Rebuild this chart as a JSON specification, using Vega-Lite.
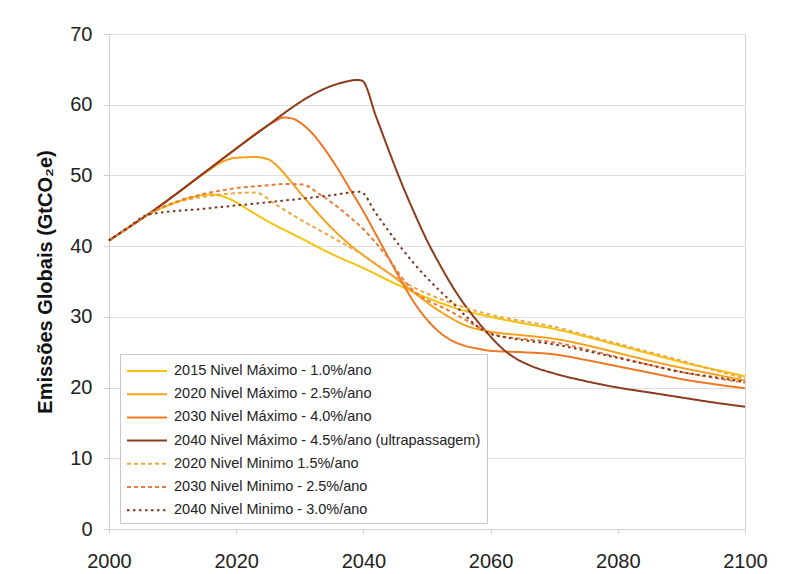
{
  "$schema": "https://vega.github.io/schema/vega-lite/v6.json",
  "width": 636,
  "height": 495,
  "autosize": {"type": "none"},
  "padding": {"left": 109, "top": 34, "right": 55, "bottom": 45},
  "background": "white",
  "config": {
    "view": {"stroke": "#d4d4d4", "strokeWidth": 1},
    "font": "Liberation Sans"
  },
  "datasets": {
    "emissoes": [
      {"serie": "2015 Nivel Máximo - 1.0%/ano", "ano": 2000, "valor": 40.8},
      {"serie": "2015 Nivel Máximo - 1.0%/ano", "ano": 2003, "valor": 42.6},
      {"serie": "2015 Nivel Máximo - 1.0%/ano", "ano": 2006, "valor": 44.4},
      {"serie": "2015 Nivel Máximo - 1.0%/ano", "ano": 2010, "valor": 46.0},
      {"serie": "2015 Nivel Máximo - 1.0%/ano", "ano": 2013, "valor": 46.9},
      {"serie": "2015 Nivel Máximo - 1.0%/ano", "ano": 2016, "valor": 47.3},
      {"serie": "2015 Nivel Máximo - 1.0%/ano", "ano": 2018, "valor": 47.0},
      {"serie": "2015 Nivel Máximo - 1.0%/ano", "ano": 2020, "valor": 46.2},
      {"serie": "2015 Nivel Máximo - 1.0%/ano", "ano": 2022, "valor": 45.1},
      {"serie": "2015 Nivel Máximo - 1.0%/ano", "ano": 2025, "valor": 43.5},
      {"serie": "2015 Nivel Máximo - 1.0%/ano", "ano": 2030, "valor": 41.2},
      {"serie": "2015 Nivel Máximo - 1.0%/ano", "ano": 2035, "valor": 38.9},
      {"serie": "2015 Nivel Máximo - 1.0%/ano", "ano": 2040, "valor": 36.9},
      {"serie": "2015 Nivel Máximo - 1.0%/ano", "ano": 2045, "valor": 34.7},
      {"serie": "2015 Nivel Máximo - 1.0%/ano", "ano": 2050, "valor": 32.7},
      {"serie": "2015 Nivel Máximo - 1.0%/ano", "ano": 2055, "valor": 31.1},
      {"serie": "2015 Nivel Máximo - 1.0%/ano", "ano": 2060, "valor": 30.0},
      {"serie": "2015 Nivel Máximo - 1.0%/ano", "ano": 2065, "valor": 29.1},
      {"serie": "2015 Nivel Máximo - 1.0%/ano", "ano": 2070, "valor": 28.3},
      {"serie": "2015 Nivel Máximo - 1.0%/ano", "ano": 2075, "valor": 27.2},
      {"serie": "2015 Nivel Máximo - 1.0%/ano", "ano": 2080, "valor": 26.0},
      {"serie": "2015 Nivel Máximo - 1.0%/ano", "ano": 2085, "valor": 24.8},
      {"serie": "2015 Nivel Máximo - 1.0%/ano", "ano": 2090, "valor": 23.6},
      {"serie": "2015 Nivel Máximo - 1.0%/ano", "ano": 2095, "valor": 22.6},
      {"serie": "2015 Nivel Máximo - 1.0%/ano", "ano": 2100, "valor": 21.6},

      {"serie": "2020 Nivel Máximo - 2.5%/ano", "ano": 2000, "valor": 40.8},
      {"serie": "2020 Nivel Máximo - 2.5%/ano", "ano": 2003, "valor": 42.6},
      {"serie": "2020 Nivel Máximo - 2.5%/ano", "ano": 2006, "valor": 44.4},
      {"serie": "2020 Nivel Máximo - 2.5%/ano", "ano": 2010, "valor": 47.0},
      {"serie": "2020 Nivel Máximo - 2.5%/ano", "ano": 2015, "valor": 50.3},
      {"serie": "2020 Nivel Máximo - 2.5%/ano", "ano": 2018, "valor": 52.0},
      {"serie": "2020 Nivel Máximo - 2.5%/ano", "ano": 2020, "valor": 52.5},
      {"serie": "2020 Nivel Máximo - 2.5%/ano", "ano": 2023, "valor": 52.6},
      {"serie": "2020 Nivel Máximo - 2.5%/ano", "ano": 2025, "valor": 52.3},
      {"serie": "2020 Nivel Máximo - 2.5%/ano", "ano": 2026, "valor": 51.7},
      {"serie": "2020 Nivel Máximo - 2.5%/ano", "ano": 2028, "valor": 49.8},
      {"serie": "2020 Nivel Máximo - 2.5%/ano", "ano": 2030, "valor": 47.6},
      {"serie": "2020 Nivel Máximo - 2.5%/ano", "ano": 2032, "valor": 45.5},
      {"serie": "2020 Nivel Máximo - 2.5%/ano", "ano": 2034, "valor": 43.5},
      {"serie": "2020 Nivel Máximo - 2.5%/ano", "ano": 2036, "valor": 41.7},
      {"serie": "2020 Nivel Máximo - 2.5%/ano", "ano": 2038, "valor": 40.1},
      {"serie": "2020 Nivel Máximo - 2.5%/ano", "ano": 2040, "valor": 38.7},
      {"serie": "2020 Nivel Máximo - 2.5%/ano", "ano": 2042, "valor": 37.4},
      {"serie": "2020 Nivel Máximo - 2.5%/ano", "ano": 2044, "valor": 36.2},
      {"serie": "2020 Nivel Máximo - 2.5%/ano", "ano": 2048, "valor": 33.4},
      {"serie": "2020 Nivel Máximo - 2.5%/ano", "ano": 2052, "valor": 30.8},
      {"serie": "2020 Nivel Máximo - 2.5%/ano", "ano": 2056, "valor": 28.8},
      {"serie": "2020 Nivel Máximo - 2.5%/ano", "ano": 2060, "valor": 27.9},
      {"serie": "2020 Nivel Máximo - 2.5%/ano", "ano": 2065, "valor": 27.4},
      {"serie": "2020 Nivel Máximo - 2.5%/ano", "ano": 2070, "valor": 26.9},
      {"serie": "2020 Nivel Máximo - 2.5%/ano", "ano": 2075, "valor": 26.0},
      {"serie": "2020 Nivel Máximo - 2.5%/ano", "ano": 2080, "valor": 24.9},
      {"serie": "2020 Nivel Máximo - 2.5%/ano", "ano": 2085, "valor": 23.8},
      {"serie": "2020 Nivel Máximo - 2.5%/ano", "ano": 2090, "valor": 22.8},
      {"serie": "2020 Nivel Máximo - 2.5%/ano", "ano": 2095, "valor": 21.9},
      {"serie": "2020 Nivel Máximo - 2.5%/ano", "ano": 2100, "valor": 21.0},

      {"serie": "2030 Nivel Máximo - 4.0%/ano", "ano": 2000, "valor": 40.8},
      {"serie": "2030 Nivel Máximo - 4.0%/ano", "ano": 2003, "valor": 42.6},
      {"serie": "2030 Nivel Máximo - 4.0%/ano", "ano": 2006, "valor": 44.4},
      {"serie": "2030 Nivel Máximo - 4.0%/ano", "ano": 2010, "valor": 47.0},
      {"serie": "2030 Nivel Máximo - 4.0%/ano", "ano": 2015, "valor": 50.4},
      {"serie": "2030 Nivel Máximo - 4.0%/ano", "ano": 2020, "valor": 53.8},
      {"serie": "2030 Nivel Máximo - 4.0%/ano", "ano": 2024, "valor": 56.5},
      {"serie": "2030 Nivel Máximo - 4.0%/ano", "ano": 2026, "valor": 57.6},
      {"serie": "2030 Nivel Máximo - 4.0%/ano", "ano": 2027.5, "valor": 58.2},
      {"serie": "2030 Nivel Máximo - 4.0%/ano", "ano": 2029, "valor": 58.0},
      {"serie": "2030 Nivel Máximo - 4.0%/ano", "ano": 2030, "valor": 57.5},
      {"serie": "2030 Nivel Máximo - 4.0%/ano", "ano": 2032, "valor": 55.9},
      {"serie": "2030 Nivel Máximo - 4.0%/ano", "ano": 2034, "valor": 53.6},
      {"serie": "2030 Nivel Máximo - 4.0%/ano", "ano": 2036, "valor": 50.9},
      {"serie": "2030 Nivel Máximo - 4.0%/ano", "ano": 2038, "valor": 47.9},
      {"serie": "2030 Nivel Máximo - 4.0%/ano", "ano": 2040, "valor": 44.9},
      {"serie": "2030 Nivel Máximo - 4.0%/ano", "ano": 2042, "valor": 41.6},
      {"serie": "2030 Nivel Máximo - 4.0%/ano", "ano": 2044, "valor": 38.3},
      {"serie": "2030 Nivel Máximo - 4.0%/ano", "ano": 2046, "valor": 35.0},
      {"serie": "2030 Nivel Máximo - 4.0%/ano", "ano": 2048, "valor": 32.0},
      {"serie": "2030 Nivel Máximo - 4.0%/ano", "ano": 2050, "valor": 29.6},
      {"serie": "2030 Nivel Máximo - 4.0%/ano", "ano": 2052, "valor": 27.8},
      {"serie": "2030 Nivel Máximo - 4.0%/ano", "ano": 2054, "valor": 26.6},
      {"serie": "2030 Nivel Máximo - 4.0%/ano", "ano": 2056, "valor": 25.9},
      {"serie": "2030 Nivel Máximo - 4.0%/ano", "ano": 2058, "valor": 25.5},
      {"serie": "2030 Nivel Máximo - 4.0%/ano", "ano": 2060, "valor": 25.2},
      {"serie": "2030 Nivel Máximo - 4.0%/ano", "ano": 2065, "valor": 25.0},
      {"serie": "2030 Nivel Máximo - 4.0%/ano", "ano": 2070, "valor": 24.7},
      {"serie": "2030 Nivel Máximo - 4.0%/ano", "ano": 2075, "valor": 23.9},
      {"serie": "2030 Nivel Máximo - 4.0%/ano", "ano": 2080, "valor": 23.0},
      {"serie": "2030 Nivel Máximo - 4.0%/ano", "ano": 2085, "valor": 22.1},
      {"serie": "2030 Nivel Máximo - 4.0%/ano", "ano": 2090, "valor": 21.2},
      {"serie": "2030 Nivel Máximo - 4.0%/ano", "ano": 2095, "valor": 20.5},
      {"serie": "2030 Nivel Máximo - 4.0%/ano", "ano": 2100, "valor": 19.9},

      {"serie": "2040 Nivel Máximo - 4.5%/ano (ultrapassagem)", "ano": 2000, "valor": 40.8},
      {"serie": "2040 Nivel Máximo - 4.5%/ano (ultrapassagem)", "ano": 2003, "valor": 42.6},
      {"serie": "2040 Nivel Máximo - 4.5%/ano (ultrapassagem)", "ano": 2006, "valor": 44.4},
      {"serie": "2040 Nivel Máximo - 4.5%/ano (ultrapassagem)", "ano": 2010, "valor": 47.0},
      {"serie": "2040 Nivel Máximo - 4.5%/ano (ultrapassagem)", "ano": 2015, "valor": 50.4},
      {"serie": "2040 Nivel Máximo - 4.5%/ano (ultrapassagem)", "ano": 2020, "valor": 53.8},
      {"serie": "2040 Nivel Máximo - 4.5%/ano (ultrapassagem)", "ano": 2025, "valor": 57.1},
      {"serie": "2040 Nivel Máximo - 4.5%/ano (ultrapassagem)", "ano": 2028, "valor": 59.1},
      {"serie": "2040 Nivel Máximo - 4.5%/ano (ultrapassagem)", "ano": 2031, "valor": 60.9},
      {"serie": "2040 Nivel Máximo - 4.5%/ano (ultrapassagem)", "ano": 2034, "valor": 62.3},
      {"serie": "2040 Nivel Máximo - 4.5%/ano (ultrapassagem)", "ano": 2037, "valor": 63.2},
      {"serie": "2040 Nivel Máximo - 4.5%/ano (ultrapassagem)", "ano": 2039, "valor": 63.5},
      {"serie": "2040 Nivel Máximo - 4.5%/ano (ultrapassagem)", "ano": 2039.8, "valor": 63.4},
      {"serie": "2040 Nivel Máximo - 4.5%/ano (ultrapassagem)", "ano": 2042, "valor": 58.3},
      {"serie": "2040 Nivel Máximo - 4.5%/ano (ultrapassagem)", "ano": 2044, "valor": 53.5},
      {"serie": "2040 Nivel Máximo - 4.5%/ano (ultrapassagem)", "ano": 2046, "valor": 48.9},
      {"serie": "2040 Nivel Máximo - 4.5%/ano (ultrapassagem)", "ano": 2048, "valor": 44.7},
      {"serie": "2040 Nivel Máximo - 4.5%/ano (ultrapassagem)", "ano": 2050, "valor": 40.8},
      {"serie": "2040 Nivel Máximo - 4.5%/ano (ultrapassagem)", "ano": 2052, "valor": 37.4},
      {"serie": "2040 Nivel Máximo - 4.5%/ano (ultrapassagem)", "ano": 2054, "valor": 34.3},
      {"serie": "2040 Nivel Máximo - 4.5%/ano (ultrapassagem)", "ano": 2056, "valor": 31.6},
      {"serie": "2040 Nivel Máximo - 4.5%/ano (ultrapassagem)", "ano": 2058, "valor": 29.3},
      {"serie": "2040 Nivel Máximo - 4.5%/ano (ultrapassagem)", "ano": 2060, "valor": 27.2},
      {"serie": "2040 Nivel Máximo - 4.5%/ano (ultrapassagem)", "ano": 2062, "valor": 25.4},
      {"serie": "2040 Nivel Máximo - 4.5%/ano (ultrapassagem)", "ano": 2064, "valor": 24.1},
      {"serie": "2040 Nivel Máximo - 4.5%/ano (ultrapassagem)", "ano": 2066, "valor": 23.2},
      {"serie": "2040 Nivel Máximo - 4.5%/ano (ultrapassagem)", "ano": 2070, "valor": 22.0},
      {"serie": "2040 Nivel Máximo - 4.5%/ano (ultrapassagem)", "ano": 2075, "valor": 20.9},
      {"serie": "2040 Nivel Máximo - 4.5%/ano (ultrapassagem)", "ano": 2080, "valor": 20.0},
      {"serie": "2040 Nivel Máximo - 4.5%/ano (ultrapassagem)", "ano": 2085, "valor": 19.3},
      {"serie": "2040 Nivel Máximo - 4.5%/ano (ultrapassagem)", "ano": 2090, "valor": 18.6},
      {"serie": "2040 Nivel Máximo - 4.5%/ano (ultrapassagem)", "ano": 2095, "valor": 17.9},
      {"serie": "2040 Nivel Máximo - 4.5%/ano (ultrapassagem)", "ano": 2100, "valor": 17.3},

      {"serie": "2020 Nivel Minimo 1.5%/ano", "ano": 2000, "valor": 40.8},
      {"serie": "2020 Nivel Minimo 1.5%/ano", "ano": 2003, "valor": 42.6},
      {"serie": "2020 Nivel Minimo 1.5%/ano", "ano": 2006, "valor": 44.4},
      {"serie": "2020 Nivel Minimo 1.5%/ano", "ano": 2010, "valor": 46.0},
      {"serie": "2020 Nivel Minimo 1.5%/ano", "ano": 2015, "valor": 47.0},
      {"serie": "2020 Nivel Minimo 1.5%/ano", "ano": 2020, "valor": 47.5},
      {"serie": "2020 Nivel Minimo 1.5%/ano", "ano": 2023, "valor": 47.6},
      {"serie": "2020 Nivel Minimo 1.5%/ano", "ano": 2026, "valor": 46.0},
      {"serie": "2020 Nivel Minimo 1.5%/ano", "ano": 2030, "valor": 43.8},
      {"serie": "2020 Nivel Minimo 1.5%/ano", "ano": 2035, "valor": 41.3},
      {"serie": "2020 Nivel Minimo 1.5%/ano", "ano": 2040, "valor": 38.7},
      {"serie": "2020 Nivel Minimo 1.5%/ano", "ano": 2045, "valor": 35.6},
      {"serie": "2020 Nivel Minimo 1.5%/ano", "ano": 2050, "valor": 33.3},
      {"serie": "2020 Nivel Minimo 1.5%/ano", "ano": 2055, "valor": 31.6},
      {"serie": "2020 Nivel Minimo 1.5%/ano", "ano": 2060, "valor": 30.3},
      {"serie": "2020 Nivel Minimo 1.5%/ano", "ano": 2065, "valor": 29.4},
      {"serie": "2020 Nivel Minimo 1.5%/ano", "ano": 2070, "valor": 28.6},
      {"serie": "2020 Nivel Minimo 1.5%/ano", "ano": 2075, "valor": 27.4},
      {"serie": "2020 Nivel Minimo 1.5%/ano", "ano": 2080, "valor": 26.2},
      {"serie": "2020 Nivel Minimo 1.5%/ano", "ano": 2085, "valor": 25.0},
      {"serie": "2020 Nivel Minimo 1.5%/ano", "ano": 2090, "valor": 23.8},
      {"serie": "2020 Nivel Minimo 1.5%/ano", "ano": 2095, "valor": 22.5},
      {"serie": "2020 Nivel Minimo 1.5%/ano", "ano": 2100, "valor": 21.3},

      {"serie": "2030 Nivel Minimo  - 2.5%/ano", "ano": 2000, "valor": 40.8},
      {"serie": "2030 Nivel Minimo  - 2.5%/ano", "ano": 2003, "valor": 42.6},
      {"serie": "2030 Nivel Minimo  - 2.5%/ano", "ano": 2006, "valor": 44.4},
      {"serie": "2030 Nivel Minimo  - 2.5%/ano", "ano": 2010, "valor": 46.1},
      {"serie": "2030 Nivel Minimo  - 2.5%/ano", "ano": 2015, "valor": 47.4},
      {"serie": "2030 Nivel Minimo  - 2.5%/ano", "ano": 2020, "valor": 48.2},
      {"serie": "2030 Nivel Minimo  - 2.5%/ano", "ano": 2025, "valor": 48.6},
      {"serie": "2030 Nivel Minimo  - 2.5%/ano", "ano": 2028, "valor": 48.8},
      {"serie": "2030 Nivel Minimo  - 2.5%/ano", "ano": 2030.5, "valor": 48.7},
      {"serie": "2030 Nivel Minimo  - 2.5%/ano", "ano": 2033, "valor": 47.4},
      {"serie": "2030 Nivel Minimo  - 2.5%/ano", "ano": 2036, "valor": 45.5},
      {"serie": "2030 Nivel Minimo  - 2.5%/ano", "ano": 2038, "valor": 44.0},
      {"serie": "2030 Nivel Minimo  - 2.5%/ano", "ano": 2040, "valor": 42.4},
      {"serie": "2030 Nivel Minimo  - 2.5%/ano", "ano": 2042, "valor": 40.4},
      {"serie": "2030 Nivel Minimo  - 2.5%/ano", "ano": 2044, "valor": 38.2},
      {"serie": "2030 Nivel Minimo  - 2.5%/ano", "ano": 2046, "valor": 35.6},
      {"serie": "2030 Nivel Minimo  - 2.5%/ano", "ano": 2048, "valor": 33.6},
      {"serie": "2030 Nivel Minimo  - 2.5%/ano", "ano": 2050, "valor": 32.4},
      {"serie": "2030 Nivel Minimo  - 2.5%/ano", "ano": 2053, "valor": 31.1},
      {"serie": "2030 Nivel Minimo  - 2.5%/ano", "ano": 2056, "valor": 29.6},
      {"serie": "2030 Nivel Minimo  - 2.5%/ano", "ano": 2058, "valor": 28.6},
      {"serie": "2030 Nivel Minimo  - 2.5%/ano", "ano": 2061, "valor": 27.4},
      {"serie": "2030 Nivel Minimo  - 2.5%/ano", "ano": 2065, "valor": 26.9},
      {"serie": "2030 Nivel Minimo  - 2.5%/ano", "ano": 2070, "valor": 26.4},
      {"serie": "2030 Nivel Minimo  - 2.5%/ano", "ano": 2075, "valor": 25.4},
      {"serie": "2030 Nivel Minimo  - 2.5%/ano", "ano": 2080, "valor": 24.3},
      {"serie": "2030 Nivel Minimo  - 2.5%/ano", "ano": 2085, "valor": 23.2},
      {"serie": "2030 Nivel Minimo  - 2.5%/ano", "ano": 2090, "valor": 22.2},
      {"serie": "2030 Nivel Minimo  - 2.5%/ano", "ano": 2095, "valor": 21.4},
      {"serie": "2030 Nivel Minimo  - 2.5%/ano", "ano": 2100, "valor": 20.7},

      {"serie": "2040 Nivel Minimo  - 3.0%/ano", "ano": 2000, "valor": 40.8},
      {"serie": "2040 Nivel Minimo  - 3.0%/ano", "ano": 2003, "valor": 42.6},
      {"serie": "2040 Nivel Minimo  - 3.0%/ano", "ano": 2006, "valor": 44.4},
      {"serie": "2040 Nivel Minimo  - 3.0%/ano", "ano": 2015, "valor": 45.3},
      {"serie": "2040 Nivel Minimo  - 3.0%/ano", "ano": 2025, "valor": 46.2},
      {"serie": "2040 Nivel Minimo  - 3.0%/ano", "ano": 2035, "valor": 47.2},
      {"serie": "2040 Nivel Minimo  - 3.0%/ano", "ano": 2039.5, "valor": 47.7},
      {"serie": "2040 Nivel Minimo  - 3.0%/ano", "ano": 2042, "valor": 44.6},
      {"serie": "2040 Nivel Minimo  - 3.0%/ano", "ano": 2044, "valor": 42.1},
      {"serie": "2040 Nivel Minimo  - 3.0%/ano", "ano": 2046, "valor": 39.7},
      {"serie": "2040 Nivel Minimo  - 3.0%/ano", "ano": 2048, "valor": 37.5},
      {"serie": "2040 Nivel Minimo  - 3.0%/ano", "ano": 2050, "valor": 35.5},
      {"serie": "2040 Nivel Minimo  - 3.0%/ano", "ano": 2052, "valor": 33.7},
      {"serie": "2040 Nivel Minimo  - 3.0%/ano", "ano": 2054, "valor": 32.0},
      {"serie": "2040 Nivel Minimo  - 3.0%/ano", "ano": 2056, "valor": 30.2},
      {"serie": "2040 Nivel Minimo  - 3.0%/ano", "ano": 2058, "valor": 28.6},
      {"serie": "2040 Nivel Minimo  - 3.0%/ano", "ano": 2060, "valor": 27.6},
      {"serie": "2040 Nivel Minimo  - 3.0%/ano", "ano": 2063, "valor": 27.0},
      {"serie": "2040 Nivel Minimo  - 3.0%/ano", "ano": 2066, "valor": 26.6},
      {"serie": "2040 Nivel Minimo  - 3.0%/ano", "ano": 2070, "valor": 26.1},
      {"serie": "2040 Nivel Minimo  - 3.0%/ano", "ano": 2075, "valor": 25.2},
      {"serie": "2040 Nivel Minimo  - 3.0%/ano", "ano": 2080, "valor": 24.2},
      {"serie": "2040 Nivel Minimo  - 3.0%/ano", "ano": 2085, "valor": 23.2},
      {"serie": "2040 Nivel Minimo  - 3.0%/ano", "ano": 2090, "valor": 22.2},
      {"serie": "2040 Nivel Minimo  - 3.0%/ano", "ano": 2095, "valor": 21.5},
      {"serie": "2040 Nivel Minimo  - 3.0%/ano", "ano": 2100, "valor": 20.8}
    ]
  },
  "data": {"name": "emissoes"},
  "mark": {"type": "line", "strokeWidth": 2, "interpolate": "monotone"},
  "encoding": {
    "x": {
      "field": "ano",
      "type": "quantitative",
      "scale": {"domain": [2000, 2100], "nice": false, "zero": false},
      "axis": {
        "values": [2000, 2020, 2040, 2060, 2080, 2100],
        "format": "d",
        "title": null,
        "grid": false,
        "labelFontSize": 20,
        "labelColor": "#222222",
        "labelFlush": false,
        "labelOverlap": false,
        "tickSize": 4,
        "tickColor": "#cfcfcf",
        "domainColor": "#cfcfcf",
        "labelPadding": 18
      }
    },
    "y": {
      "field": "valor",
      "type": "quantitative",
      "scale": {"domain": [0, 70], "nice": false},
      "axis": {
        "values": [0, 10, 20, 30, 40, 50, 60, 70],
        "title": "Emissões Globais (GtCO₂e)",
        "titleFontSize": 20,
        "titleFontWeight": "bold",
        "titleColor": "#111111",
        "titlePadding": 14,
        "labelFontSize": 20,
        "labelColor": "#222222",
        "labelFlush": false,
        "labelOverlap": false,
        "tickSize": 6,
        "labelPadding": 11,
        "gridColor": "#dedede",
        "tickColor": "#cfcfcf",
        "domainColor": "#cfcfcf"
      }
    },
    "color": {
      "field": "serie",
      "type": "nominal",
      "scale": {
        "domain": [
          "2015 Nivel Máximo - 1.0%/ano",
          "2020 Nivel Máximo - 2.5%/ano",
          "2030 Nivel Máximo - 4.0%/ano",
          "2040 Nivel Máximo - 4.5%/ano (ultrapassagem)",
          "2020 Nivel Minimo 1.5%/ano",
          "2030 Nivel Minimo  - 2.5%/ano",
          "2040 Nivel Minimo  - 3.0%/ano"
        ],
        "range": ["#f4c20d", "#f5a11c", "#ee7624", "#8b3b1d", "#f3a742", "#ea7b3c", "#7a3520"]
      },
      "legend": {
        "title": null,
        "orient": "none",
        "legendX": 11,
        "legendY": 320,
        "padding": 6,
        "fillColor": "white",
        "strokeColor": "#c8c8c8",
        "symbolType": "M-1,0H3",
        "symbolSize": 400,
        "symbolStrokeWidth": 2,
        "labelFontSize": 14.5,
        "labelColor": "#222222",
        "labelLimit": 400,
        "labelOffset": 26,
        "rowPadding": 5.2
      }
    },
    "strokeDash": {
      "field": "serie",
      "type": "nominal",
      "scale": {
        "domain": [
          "2015 Nivel Máximo - 1.0%/ano",
          "2020 Nivel Máximo - 2.5%/ano",
          "2030 Nivel Máximo - 4.0%/ano",
          "2040 Nivel Máximo - 4.5%/ano (ultrapassagem)",
          "2020 Nivel Minimo 1.5%/ano",
          "2030 Nivel Minimo  - 2.5%/ano",
          "2040 Nivel Minimo  - 3.0%/ano"
        ],
        "range": [[1, 0], [1, 0], [1, 0], [1, 0], [4, 3], [4, 3], [2.5, 3.5]]
      },
      "legend": {
        "title": null,
        "orient": "none",
        "legendX": 11,
        "legendY": 320,
        "padding": 6,
        "fillColor": "white",
        "strokeColor": "#c8c8c8",
        "symbolType": "M-1,0H3",
        "symbolSize": 400,
        "symbolStrokeWidth": 2,
        "labelFontSize": 14.5,
        "labelColor": "#222222",
        "labelLimit": 400,
        "labelOffset": 26,
        "rowPadding": 5.2
      }
    }
  }
}
